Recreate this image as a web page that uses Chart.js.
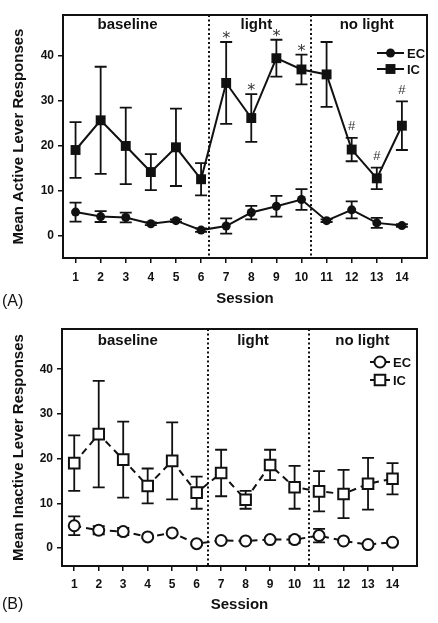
<!DOCTYPE html>
<html>
<head>
<meta charset="utf-8">
<script src="https://cdn.jsdelivr.net/npm/chart.js@4/dist/chart.umd.min.js"></script>
<style>
  html, body { margin: 0; padding: 0; background: #fff; }
  canvas { display: block; }
</style>
</head>
<body>
<canvas id="activeChart" width="438" height="310"></canvas>
<canvas id="inactiveChart" width="438" height="313"></canvas>
<script>
const sessions = [1, 2, 3, 4, 5, 6, 7, 8, 9, 10, 11, 12, 13, 14];
const yTicks = [0, 10, 20, 30, 40];
const phaseNames = ["baseline", "light", "no light"];

// panel A - active lever (mean, SEM)
const ecActive = [5.2, 4.2, 4.0, 2.6, 3.3, 1.2, 2.1, 5.1, 6.5, 8.0, 3.3, 5.7, 2.8, 2.2];
const ecActiveSem = [2.1, 1.2, 1.1, 0.3, 0.3, 0.4, 1.7, 1.5, 2.3, 2.3, 0.3, 1.9, 1.1, 0.3];
const icActive = [19.0, 25.6, 19.9, 14.1, 19.6, 12.5, 33.9, 26.1, 39.4, 36.9, 35.8, 19.1, 12.7, 24.4];
const icActiveSem = [6.2, 11.9, 8.5, 4.0, 8.6, 3.6, 9.1, 5.3, 4.1, 3.3, 7.2, 2.6, 2.4, 5.4];
const starSessions = [7, 8, 9, 10];
const hashSessions = [12, 13, 14];

// panel B - inactive lever (mean, SEM)
const ecInactive = [5.0, 4.0, 3.7, 2.5, 3.4, 1.0, 1.7, 1.6, 1.9, 1.9, 2.8, 1.6, 0.8, 1.3];
const ecInactiveSem = [2.1, 0.9, 0.8, 0.3, 0.3, 0.3, 0.3, 0.3, 0.3, 0.7, 1.5, 0.3, 0.3, 0.3];
const icInactive = [19.0, 25.5, 19.8, 13.9, 19.5, 12.4, 16.8, 10.8, 18.6, 13.6, 12.7, 12.1, 14.4, 15.5];
const icInactiveSem = [6.2, 11.9, 8.5, 3.9, 8.6, 3.6, 5.2, 2.0, 3.4, 4.8, 4.5, 5.4, 5.8, 3.5];

// where the phases change / where their names sit (session units)
const phaseBreaksA = [6.3, 10.38];
const phaseBreaksB = [6.48, 10.6];
const phaseLabelXA = [3.07, 8.2, 12.6];
const phaseLabelXB = [3.19, 8.3, 12.77];

const FONT = "'Liberation Sans', Arial, sans-serif";
Chart.defaults.font.family = FONT;
Chart.defaults.color = "#111";

const toPoints = vals => sessions.map((s, i) => ({ x: s, y: vals[i] }));

const errorBars = {
    id: "errorBars",
    beforeDatasetsDraw(chart) {
        const { ctx, scales: { x, y } } = chart;
        ctx.save();
        ctx.strokeStyle = "#111";
        ctx.lineWidth = 1.8;
        chart.data.datasets.forEach(ds => {
            ds.data.forEach((p, i) => {
                const e = ds.errors[i];
                const px = x.getPixelForValue(p.x);
                const top = y.getPixelForValue(p.y + e);
                const bot = y.getPixelForValue(p.y - e);
                ctx.beginPath();
                ctx.moveTo(px, top); ctx.lineTo(px, bot);
                ctx.moveTo(px - 6, top); ctx.lineTo(px + 6, top);
                ctx.moveTo(px - 6, bot); ctx.lineTo(px + 6, bot);
                ctx.stroke();
            });
        });
        ctx.restore();
    }
};

const decorations = {
    id: "decorations",
    afterDraw(chart, args, opts) {
        const { ctx, chartArea: a, scales: { x, y } } = chart;
        ctx.save();

        // frame
        ctx.strokeStyle = "#111";
        ctx.lineWidth = 2;
        ctx.strokeRect(a.left, a.top, a.right - a.left, a.bottom - a.top);

        // phase separators
        ctx.setLineDash([2, 2.5]);
        ctx.lineWidth = 2;
        opts.breaks.forEach(b => {
            const px = Math.round(x.getPixelForValue(b));
            ctx.beginPath();
            ctx.moveTo(px, a.top); ctx.lineTo(px, a.bottom);
            ctx.stroke();
        });
        ctx.setLineDash([]);

        // phase names
        ctx.fillStyle = "#111";
        ctx.font = "bold 15px " + FONT;
        ctx.textAlign = "center";
        ctx.textBaseline = "middle";
        phaseNames.forEach((n, i) => {
            ctx.fillText(n, x.getPixelForValue(opts.phaseX[i]), a.top + opts.phaseDy);
        });

        // significance marks above IC error bars
        if (opts.marks) {
            const ds = chart.data.datasets[1];
            ctx.fillStyle = "#333";
            opts.marks.forEach(m => {
                ctx.font = m.font;
                m.sessions.forEach(s => {
                    const i = sessions.indexOf(s);
                    const py = y.getPixelForValue(ds.data[i].y + ds.errors[i]);
                    ctx.fillText(m.text, x.getPixelForValue(s), py - m.dy);
                });
            });
        }

        // legend
        const lg = opts.legend;
        chart.data.datasets.forEach((ds, i) => {
            const ly = a.top + lg.dy + i * lg.gap;
            const x0 = a.right - lg.dx;
            const x1 = x0 + lg.len;
            const cx = (x0 + x1) / 2;
            ctx.strokeStyle = "#111";
            ctx.lineWidth = 2;
            ctx.beginPath();
            if (ds.borderDash) {
                ctx.moveTo(x0, ly); ctx.lineTo(x0 + 4, ly);
                ctx.moveTo(x1 - 4, ly); ctx.lineTo(x1, ly);
            } else {
                ctx.moveTo(x0, ly); ctx.lineTo(x1, ly);
            }
            ctx.stroke();
            ctx.fillStyle = ds.pointBackgroundColor;
            ctx.lineWidth = ds.pointBorderWidth;
            ctx.beginPath();
            if (ds.pointStyle === "rect") {
                const h = ds.pointRadius * Math.SQRT1_2;
                ctx.rect(cx - h, ly - h, 2 * h, 2 * h);
            } else {
                ctx.arc(cx, ly, ds.pointRadius, 0, Math.PI * 2);
            }
            ctx.fill();
            if (ds.pointBorderWidth > 0) ctx.stroke();
            ctx.fillStyle = "#111";
            ctx.font = "bold 13px " + FONT;
            ctx.textAlign = "left";
            ctx.fillText(ds.label, x1 + 3, ly + 1);
            ctx.textAlign = "center";
        });

        // panel letter
        ctx.font = "16px " + FONT;
        ctx.textAlign = "left";
        ctx.fillText(opts.panel, 2, opts.panelY);

        ctx.restore();
    }
};

function makeScales(p) {
    return {
        x: {
            type: "linear",
            min: 0.5,
            max: 15,
            afterBuildTicks: s => { s.ticks = sessions.map(v => ({ value: v })); },
            afterFit: s => { s.height = p.xHeight; },
            grid: { drawOnChartArea: false, tickLength: 5, color: "#111", lineWidth: 1.5 },
            border: { display: false },
            ticks: { padding: p.xTickPad, autoSkip: false, maxRotation: 0, color: "#111",
                     font: { size: 12, weight: "bold" } },
            title: { display: true, text: "Session", color: "#111",
                     font: { size: 15, weight: "bold" }, padding: { top: 0, bottom: p.sessionPad } }
        },
        y: {
            min: p.yMin,
            max: 49,
            afterBuildTicks: s => { s.ticks = yTicks.map(v => ({ value: v })); },
            afterFit: s => { s.width = p.yWidth; },
            grid: { drawOnChartArea: false, tickLength: 5, color: "#111", lineWidth: 1.5 },
            border: { display: false },
            ticks: { padding: 4, color: "#111", font: { size: 12, weight: "bold" } },
            title: { display: true, text: p.yTitle, color: "#111",
                     font: { size: 15, weight: "bold" }, padding: { top: 10, bottom: 0 } }
        }
    };
}

new Chart(document.getElementById("activeChart"), {
    type: "scatter",
    data: {
        datasets: [{
            label: "EC",
            data: toPoints(ecActive),
            errors: ecActiveSem,
            showLine: true,
            borderColor: "#111",
            borderWidth: 2,
            pointStyle: "circle",
            pointRadius: 4.5,
            pointBackgroundColor: "#111",
            pointBorderColor: "#111",
            pointBorderWidth: 0
        }, {
            label: "IC",
            data: toPoints(icActive),
            errors: icActiveSem,
            showLine: true,
            borderColor: "#111",
            borderWidth: 2,
            pointStyle: "rect",
            pointRadius: 7,
            pointBackgroundColor: "#111",
            pointBorderColor: "#111",
            pointBorderWidth: 0
        }]
    },
    options: {
        responsive: false,
        animation: false,
        events: [],
        layout: { padding: { left: 0, right: 11, top: 15, bottom: 0 } },
        scales: makeScales({ xHeight: 52, xTickPad: 7, sessionPad: 2, yMin: -5, yWidth: 63,
                             yTitle: "Mean Active Lever Responses" }),
        plugins: {
            legend: { display: false },
            tooltip: { enabled: false },
            decorations: {
                breaks: phaseBreaksA,
                phaseX: phaseLabelXA,
                phaseDy: 10,
                marks: [
                    { text: "*", sessions: starSessions, dy: 3, font: "16px 'DejaVu Sans', sans-serif" },
                    { text: "#", sessions: hashSessions, dy: 11, font: "13px " + FONT }
                ],
                legend: { dx: 50, len: 27, dy: 38, gap: 16 },
                panel: "(A)",
                panelY: 302
            }
        }
    },
    plugins: [errorBars, decorations]
});

new Chart(document.getElementById("inactiveChart"), {
    type: "scatter",
    data: {
        datasets: [{
            label: "EC",
            data: toPoints(ecInactive),
            errors: ecInactiveSem,
            showLine: true,
            borderColor: "#111",
            borderWidth: 2,
            borderDash: [7, 5],
            pointStyle: "circle",
            pointRadius: 5.5,
            pointBackgroundColor: "#fff",
            pointBorderColor: "#111",
            pointBorderWidth: 2
        }, {
            label: "IC",
            data: toPoints(icInactive),
            errors: icInactiveSem,
            showLine: true,
            borderColor: "#111",
            borderWidth: 2,
            borderDash: [7, 5],
            pointStyle: "rect",
            pointRadius: 7.5,
            pointBackgroundColor: "#fff",
            pointBorderColor: "#111",
            pointBorderWidth: 2
        }]
    },
    options: {
        responsive: false,
        animation: false,
        events: [],
        layout: { padding: { left: 0, right: 21, top: 19, bottom: 0 } },
        scales: makeScales({ xHeight: 57, xTickPad: 6, sessionPad: 9, yMin: -4, yWidth: 62,
                             yTitle: "Mean Inactive Lever Responses" }),
        plugins: {
            legend: { display: false },
            tooltip: { enabled: false },
            decorations: {
                breaks: phaseBreaksB,
                phaseX: phaseLabelXB,
                phaseDy: 12,
                legend: { dx: 47, len: 20, dy: 33, gap: 18 },
                panel: "(B)",
                panelY: 295
            }
        }
    },
    plugins: [errorBars, decorations]
});
</script>
</body>
</html>
